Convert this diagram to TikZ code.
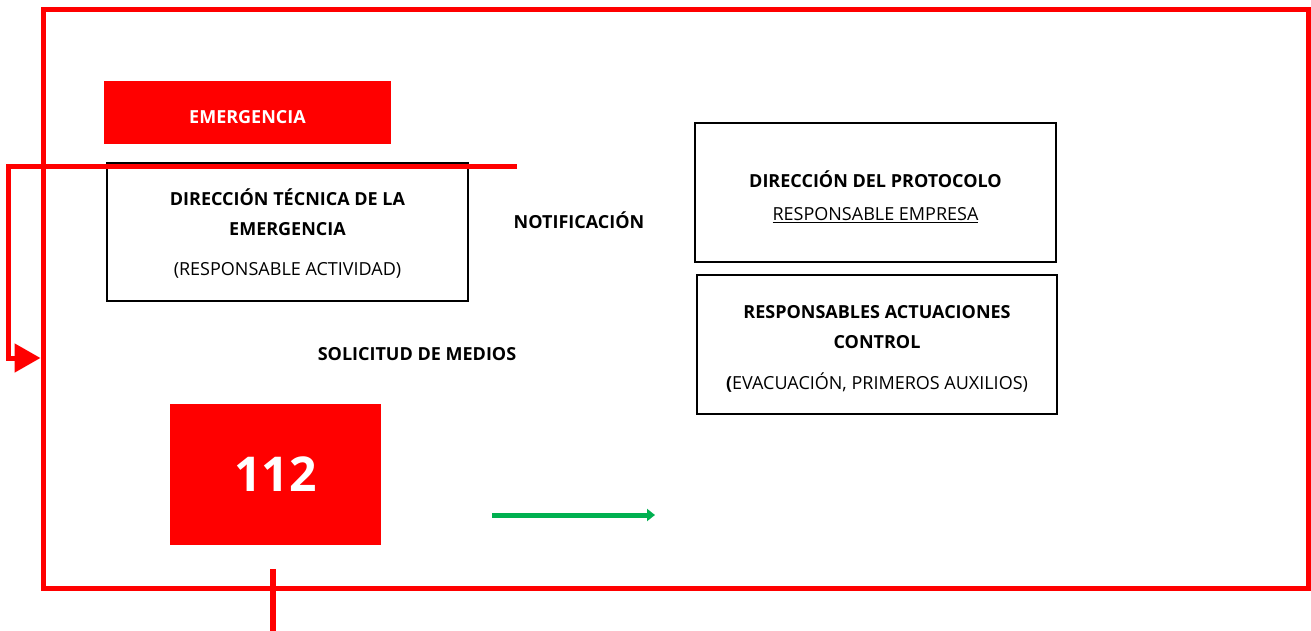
\documentclass[tikz,border=0pt]{standalone}
\usepackage{fontspec}
\setmainfont{Open Sans}
\usetikzlibrary{arrows.meta}
\definecolor{rred}{RGB}{255,0,0}
\definecolor{ggreen}{RGB}{0,176,80}
\tikzset{
  txt/.style={font=\fontsize{18}{30}\selectfont, align=center, inner sep=0pt},
  bx/.style={draw=black, line width=2pt, inner sep=0pt},
  redbox/.style={fill=rred, draw=none, text=white, inner sep=0pt},
  redline/.style={draw=rred, line width=5pt},
}
\begin{document}
\begin{tikzpicture}[x=1pt,y=-1pt]
\useasboundingbox (0,0) rectangle (1311,631);
% frame
\node[draw=rred, line width=5pt, minimum width=1265pt, minimum height=578pt, inner sep=0pt] (frame) at (675.5,299) {};
% boxes
\node[redbox, minimum width=287pt, minimum height=63pt, font=\fontsize{18}{22}\selectfont\bfseries] (emerg) at (247.5,112.5) {\raisebox{-11pt}[0pt][0pt]{EMERGENCIA}};
\node[bx, minimum width=361pt, minimum height=138pt] (dt) at (287.5,232) {};
\node[txt] (dttext) at ([yshift=-2pt]dt.center) {\textbf{DIRECCIÓN TÉCNICA DE LA}\\\textbf{EMERGENCIA}\\[10pt](RESPONSABLE ACTIVIDAD)};
\node[bx, minimum width=361pt, minimum height=139pt] (dp) at (875.5,192.5) {};
\node[txt] (dptext) at ([yshift=-4pt]dp.center) {\textbf{DIRECCIÓN DEL PROTOCOLO}\\[3pt]\underline{RESPONSABLE EMPRESA}};
\node[bx, minimum width=360pt, minimum height=139pt] (ra) at (877,344.5) {};
\node[txt] (ratext) at ([yshift=-4pt]ra.center) {\textbf{RESPONSABLES ACTUACIONES}\\\textbf{CONTROL}\\[11pt]\textbf{(}EVACUACIÓN, PRIMEROS AUXILIOS)};
\node[redbox, minimum width=211pt, minimum height=141pt, font=\fontsize{48}{48}\selectfont\bfseries] (n112) at (275.5,474.5) {112};
% labels
\node[txt, font=\fontsize{18}{22}\selectfont\bfseries] (notif) at (579,220) {NOTIFICACIÓN};
\node[txt, font=\fontsize{18}{22}\selectfont\bfseries] (solic) at (417,354) {SOLICITUD DE MEDIOS};
% connectors
\coordinate (cstart) at (517,167);
\coordinate (carr) at (frame.west |- 0,358);
\draw[redline, -{Triangle[length=26pt,width=28pt]}] (cstart) -- (8,167) -- (8,358) -- (carr);
\coordinate (gs) at (492,515);
\coordinate (ge) at (655,515);
\draw[draw=ggreen, fill=ggreen, line width=5pt, -{Triangle[length=8pt,width=12pt]}] (gs) -- (ge);
\coordinate (vs) at (273,569);
\coordinate (ve) at (273,631);
\draw[redline, line width=6.5pt] (vs) -- (ve);
\end{tikzpicture}
\end{document}
